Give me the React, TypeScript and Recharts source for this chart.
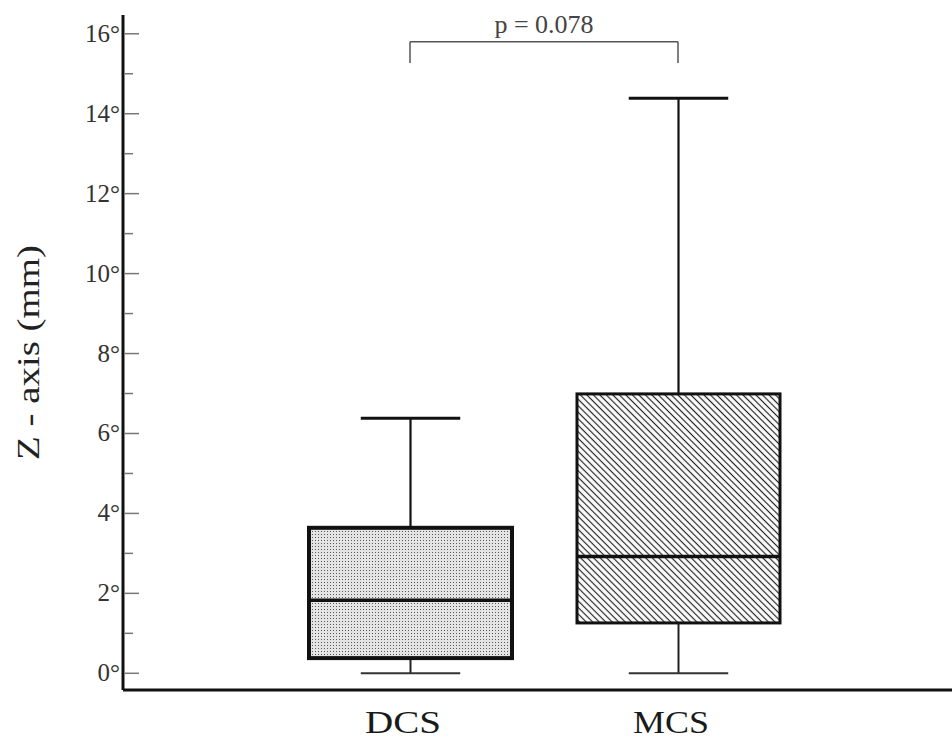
import { ComposedChart, Bar, XAxis, YAxis, ReferenceLine, Label } from "recharts";

const categories = ["DCS", "MCS"];
const mins = [0, 0];
const q1s = [0.38, 1.26];
const medians = [1.83, 2.92];
const q3s = [3.64, 6.99];
const maxes = [6.38, 14.39];
const yTicks = [0, 1, 2, 3, 4, 5, 6, 7, 8, 9, 10, 11, 12, 13, 14, 15, 16];
const pValueText = "p = 0.078";
const bracketTop = 15.8;
const bracketFoot = 15.27;

const serif = "'Liberation Serif', 'Times New Roman', serif";
const boxFills = ["url(#dotFill)", "url(#hatchFill)"];
const boxStrokes = [4, 3];

const data = categories.map((name, i) => ({
  name,
  range: [mins[i], maxes[i]],
  min: mins[i],
  q1: q1s[i],
  median: medians[i],
  q3: q3s[i],
  max: maxes[i],
}));

function BoxShape(props: any) {
  const { x, y, width, height, payload, index } = props;
  const { min, q1, median, q3, max } = payload;
  // map a value inside [min, max] onto the bar's pixel span
  const py = (v: number) => y + (height * (max - v)) / (max - min);
  const cx = x + width / 2;
  const cap = width * 0.245;
  return (
    <g>
      <line x1={cx} x2={cx} y1={py(max)} y2={py(q3)} stroke="#111" strokeWidth={2.2} />
      <line x1={cx} x2={cx} y1={py(q1)} y2={py(min)} stroke="#222" strokeWidth={2} />
      <line x1={cx - cap} x2={cx + cap} y1={py(max)} y2={py(max)} stroke="#111" strokeWidth={3} />
      <line x1={cx - cap} x2={cx + cap} y1={py(min)} y2={py(min)} stroke="#333" strokeWidth={2} />
      <rect
        x={x}
        y={py(q3)}
        width={width}
        height={py(q1) - py(q3)}
        fill={boxFills[index % boxFills.length]}
        stroke="#111"
        strokeWidth={boxStrokes[index % boxStrokes.length]}
      />
      <line x1={x} x2={x + width} y1={py(median)} y2={py(median)} stroke="#111" strokeWidth={3.5} />
    </g>
  );
}

function YTick(props: any) {
  const { x, y, payload } = props;
  const v = payload.value;
  const major = v % 2 === 0;
  return (
    <g>
      <line x1={x + 1.5} x2={x + (major ? 16 : 10)} y1={y} y2={y} stroke="#777" strokeWidth={1.5} />
      {major && (
        <text x={x - 3} y={y} dy={8} textAnchor="end" fontSize={25} fill="#333" fontFamily={serif}>
          {v}°
        </text>
      )}
    </g>
  );
}

function XTick(props: any) {
  const { x, y, payload } = props;
  return (
    <text
      x={x - 7}
      y={y}
      dy={43}
      textAnchor="middle"
      fontSize={32}
      fill="#1a1a1a"
      fontFamily={serif}
      textLength={76}
      lengthAdjust="spacingAndGlyphs"
    >
      {payload.value}
    </text>
  );
}

function YLabel(props: any) {
  const vb = props.viewBox;
  return (
    <text
      transform={`translate(${vb.x + 28}, ${vb.y + vb.height / 2}) rotate(-90)`}
      textAnchor="middle"
      dominantBaseline="central"
      fontSize={31}
      fill="#222"
      fontFamily={serif}
      textLength={215}
      lengthAdjust="spacingAndGlyphs"
    >
      Z - axis (mm)
    </text>
  );
}

export default function App() {
  return (
    <div style={{ position: "absolute", left: 0, top: 0, width: 952, height: 740, background: "#fff" }}>
      <ComposedChart width={952} height={740} data={data} margin={{ top: 15, right: 0, bottom: 0, left: 0 }}>
        <defs>
          <pattern id="dotFill" width={3} height={3} patternUnits="userSpaceOnUse">
            <rect width={3} height={3} fill="#e4e4e4" />
            <rect width={1} height={1} fill="#5a5a5a" />
          </pattern>
          <pattern id="hatchFill" width={4.6} height={4.6} patternUnits="userSpaceOnUse" patternTransform="rotate(45)">
            <rect width={4.6} height={4.6} fill="#fff" />
            <line x1={0} x2={4.6} y1={2.3} y2={2.3} stroke="#222" strokeWidth={1.2} />
          </pattern>
        </defs>
        <XAxis
          dataKey="name"
          type="category"
          padding={{ left: 153, right: 140 }}
          height={50}
          axisLine={{ stroke: "#111", strokeWidth: 3 }}
          tickLine={false}
          tickSize={0}
          tickMargin={0}
          tick={<XTick />}
          interval={0}
        />
        <YAxis
          type="number"
          domain={[-0.418, 16.47]}
          ticks={yTicks}
          allowDataOverflow
          width={123}
          axisLine={{ stroke: "#111", strokeWidth: 3 }}
          tickLine={false}
          tickSize={0}
          tickMargin={0}
          tick={<YTick />}
          interval={0}
        >
          <Label content={<YLabel />} />
        </YAxis>
        <Bar dataKey="range" barSize={203} shape={<BoxShape />} isAnimationActive={false} />
        <ReferenceLine
          segment={[{ x: categories[0], y: bracketTop }, { x: categories[1], y: bracketTop }]}
          stroke="#555"
          strokeWidth={1.5}
          ifOverflow="visible"
          label={{ value: pValueText, position: "top", offset: 9, fontSize: 26, fill: "#444", fontFamily: serif }}
        />
        <ReferenceLine
          segment={[{ x: categories[0], y: bracketFoot }, { x: categories[0], y: bracketTop }]}
          stroke="#555"
          strokeWidth={1.5}
          ifOverflow="visible"
        />
        <ReferenceLine
          segment={[{ x: categories[1], y: bracketFoot }, { x: categories[1], y: bracketTop }]}
          stroke="#555"
          strokeWidth={1.5}
          ifOverflow="visible"
        />
      </ComposedChart>
    </div>
  );
}
